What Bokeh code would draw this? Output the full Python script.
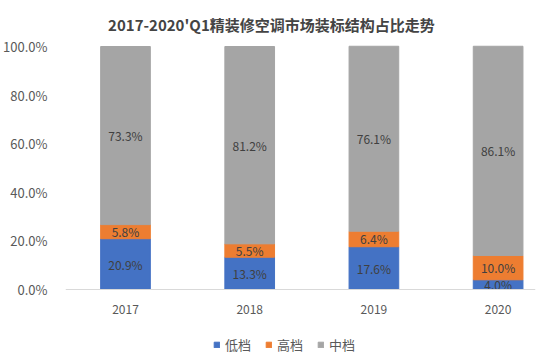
from bokeh.plotting import figure
from bokeh.models import ColumnDataSource, Range1d, FixedTicker, Legend, LegendItem, LabelSet, Span, Label
from bokeh.core.properties import value
from bokeh.embed import file_html
from bokeh.resources import INLINE

title = "2017-2020'Q1精装修空调市场装标结构占比走势"
years = ["2017", "2018", "2019", "2020"]
low = [20.9, 13.3, 17.6, 4.0]
high = [5.8, 5.5, 6.4, 10.0]
mid = [73.3, 81.2, 76.1, 86.1]
yticks = [0, 20, 40, 60, 80, 100]
ytick_labels = ["0.0%", "20.0%", "40.0%", "60.0%", "80.0%", "100.0%"]

FONT = "Noto Sans CJK SC"
colors = ["#4472C4", "#ED7D31", "#A5A5A5"]
names = ["低档", "高档", "中档"]

xs = list(range(len(years)))
b1 = [0.0] * 4
t1 = low[:]
b2 = t1[:]
t2 = [a + b for a, b in zip(t1, high)]
b3 = t2[:]
t3 = [a + b for a, b in zip(t2, mid)]

src = ColumnDataSource(dict(
    x=xs, b1=b1, t1=t1, b2=b2, t2=t2, b3=b3, t3=t3,
    y1=[(a + b) / 2 for a, b in zip(b1, t1)],
    y2=[(a + b) / 2 for a, b in zip(b2, t2)],
    y3=[(a + b) / 2 for a, b in zip(b3, t3)],
    l1=[f"{v:.1f}%" for v in low],
    l2=[f"{v:.1f}%" for v in high],
    l3=[f"{v:.1f}%" for v in mid],
    yr=years, base=b1,
))

p = figure(frame_width=470, frame_height=348, output_backend="svg", toolbar_location=None,
           x_range=Range1d(-0.483, 3.301), y_range=Range1d(-27.16, 116.05),
           min_border_left=57, min_border_right=7, min_border_bottom=0, min_border_top=7)
p.outline_line_color = None
p.grid.visible = False

r1 = p.vbar(x="x", bottom="b1", top="t1", width=0.4, color=colors[0], source=src)
r2 = p.vbar(x="x", bottom="b2", top="t2", width=0.4, color=colors[1], source=src)
r3 = p.vbar(x="x", bottom="b3", top="t3", width=0.4, color=colors[2], source=src)

for yk, lk in (("y1", "l1"), ("y2", "l2"), ("y3", "l3")):
    ls = LabelSet(x="x", y=yk, text=lk, source=src, text_align="center", text_baseline="middle",
                  text_font=value(FONT), text_font_size=value("12px"), text_color="#404040")
    p.add_layout(ls)

# chart title
p.add_layout(Label(x=1.175, y=109.0, text=title, text_align="center", text_baseline="middle",
                   text_font=FONT, text_font_size="15px", text_font_style="bold",
                   text_color="#444444"))

# category axis line at 0 and year labels under it
p.add_layout(Span(location=0, dimension="width", line_color="#D9D9D9", line_width=1))
p.text(x="x", y="base", text="yr", source=src, text_align="center", text_baseline="middle",
       y_offset=20, text_font=value(FONT), text_font_size=value("12px"), text_color="#595959")

p.yaxis.ticker = FixedTicker(ticks=yticks)
p.yaxis.major_label_overrides = {t: l for t, l in zip(yticks, ytick_labels)}
p.yaxis.axis_line_color = None
p.yaxis.major_tick_line_color = None
p.yaxis.minor_tick_line_color = None
p.yaxis.major_label_standoff = 12
p.yaxis.major_label_text_font = FONT
p.yaxis.major_label_text_font_size = "13px"
p.yaxis.major_label_text_color = "#595959"
p.xaxis.visible = False

legend = Legend(items=[LegendItem(label=n, renderers=[r]) for n, r in zip(names, [r1, r2, r3])],
                orientation="horizontal", location=(148, 1), border_line_color=None,
                background_fill_alpha=0,
                label_text_font=FONT, label_text_font_size="13px", label_text_color="#595959",
                glyph_width=7, glyph_height=7, spacing=14, label_standoff=5, padding=2, margin=0)
p.add_layout(legend)

open("out.html", "w").write(file_html(p, INLINE))
